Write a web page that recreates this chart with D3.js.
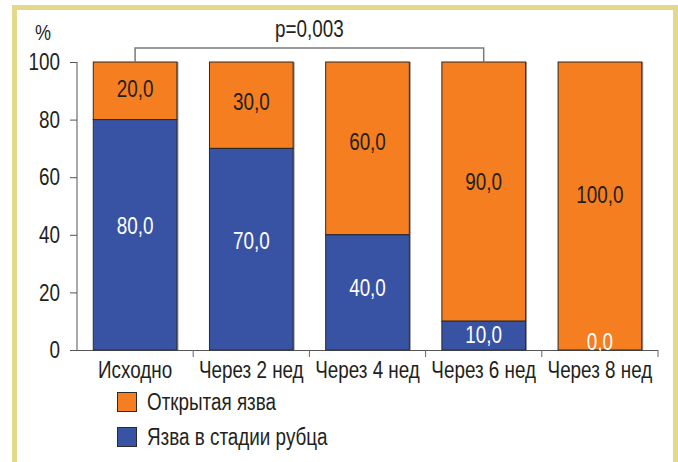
<!DOCTYPE html>
<html><head><meta charset="utf-8">
<script src="https://cdn.jsdelivr.net/npm/d3@7/dist/d3.min.js"></script>
<style>html,body{margin:0;padding:0;background:#fff;}svg{display:block;}</style>
</head><body>
<script>
const categories = ["Исходно", "Через 2 нед", "Через 4 нед", "Через 6 нед", "Через 8 нед"];
const scarred = [80, 70, 40, 10, 0];      // Язва в стадии рубца
const openUlcer = [20, 30, 60, 90, 100];  // Открытая язва
const yTicks = [0, 20, 40, 60, 80, 100];
const seriesNames = ["Открытая язва", "Язва в стадии рубца"];
const pValue = "p=0,003";
const yUnit = "%";

const W = 678, H = 462;
const FONT = "'Liberation Sans',Arial,sans-serif";
const SX = 0.82;
const ORANGE = "#f47e20", BLUE = "#3953a4", TXT = "#231f20";

const svg = d3.select("body").append("svg").attr("width", W).attr("height", H)
  .style("font-family", FONT);

function label(parent, px, py, str, o = {}) {
  return parent.append("text")
    .attr("transform", `translate(${px},${py}) scale(${SX},1)`)
    .attr("text-anchor", o.anchor || "middle")
    .attr("dy", o.dy || null)
    .attr("fill", o.fill || TXT)
    .style("font-size", (o.size || 23) + "px")
    .style("font-family", FONT)
    .text(str);
}

// frame
svg.append("path")
  .attr("d", "M14.5,470 L14.5,7.5 L675.5,7.5 L675.5,470")
  .attr("fill", "none").attr("stroke", "#e4d98b").attr("stroke-width", 5);

const x = d3.scaleBand().domain(categories).range([77, 658]).paddingInner(0.28).paddingOuter(0.14);
const y = d3.scaleLinear().domain([0, 100]).range([350, 62]);

// y axis
const yAxis = svg.append("g").attr("transform", "translate(77,0)")
  .call(d3.axisLeft(y).tickValues(yTicks).tickSize(7).tickFormat(""));
yAxis.select(".domain").attr("stroke", "#555").attr("d", `M0,${y(100)}V${y(0)}`);
yAxis.selectAll(".tick line").attr("stroke", "#555");
yTicks.forEach(t => label(svg, 60, y(t), d3.format("d")(t), { anchor: "end", dy: "0.36em" }));

// x axis
const xAxis = svg.append("g").attr("transform", "translate(0,350)");
xAxis.append("line").attr("x1", 77).attr("x2", 658).attr("y1", 0.5).attr("y2", 0.5).attr("stroke", "#555");
const bounds = categories.map(c => x(c) - x.step() * x.paddingInner() / 2).slice(1).concat([658]);
xAxis.selectAll("line.tk").data(bounds).join("line").attr("class", "tk")
  .attr("x1", d => d).attr("x2", d => d).attr("y1", 0).attr("y2", 7).attr("stroke", "#666");
categories.forEach(c => label(xAxis, x(c) + x.bandwidth() / 2, 28, c));

// % label
label(svg, 43, 40, yUnit, { size: 22 });

// bars
const rows = categories.map((c, i) => ({ c, s: scarred[i], o: openUlcer[i] }));
const g = svg.append("g");
rows.forEach(r => {
  g.append("rect").attr("x", x(r.c) + 1.5).attr("y", y(100)).attr("width", x.bandwidth())
    .attr("height", y(0) - y(100)).attr("fill", "#999");
  g.append("rect").attr("x", x(r.c)).attr("y", y(r.s + r.o)).attr("width", x.bandwidth())
    .attr("height", y(r.s) - y(r.s + r.o)).attr("fill", ORANGE).attr("stroke", "#2a2a2a").attr("stroke-width", 1);
  if (r.s > 0) {
    g.append("rect").attr("x", x(r.c)).attr("y", y(r.s)).attr("width", x.bandwidth())
      .attr("height", y(0) - y(r.s)).attr("fill", BLUE).attr("stroke", "#2a2a2a").attr("stroke-width", 1);
  }
});
// value labels
const fmt = v => v.toFixed(1).replace(".", ",");
rows.forEach(r => {
  const cx = x(r.c) + x.bandwidth() / 2;
  const hO = y(r.s) - y(r.s + r.o), cO = (y(r.s) + y(r.s + r.o)) / 2 - 0.04 * hO;
  label(g, cx, cO, fmt(r.o), { dy: "0.36em" });
  const hS = y(0) - y(r.s);
  const cS = r.s > 0 ? (y(0) + y(r.s)) / 2 - 0.04 * hS : y(0) - 8;
  label(g, cx, cS, fmt(r.s), { dy: "0.36em", fill: "#fff" });
});

// significance bracket
const bx1 = x(categories[0]) + x.bandwidth() / 2, bx2 = x(categories[3]) + x.bandwidth() / 2;
svg.append("path").attr("d", `M${bx1},${y(100)}V48H${bx2}V${y(100)}`)
  .attr("fill", "none").attr("stroke", "#7a7a7a").attr("stroke-width", 1.5);
label(svg, (bx1 + bx2) / 2, 37, pValue);

// legend
const leg = svg.append("g");
[ORANGE, BLUE].forEach((col, i) => {
  leg.append("rect").attr("x", 117.5).attr("y", 392.5 + i * 35).attr("width", 19).attr("height", 19)
    .attr("fill", col).attr("stroke", "#2a2a2a").attr("stroke-width", 1);
  label(leg, 147, 410 + i * 35, seriesNames[i], { anchor: "start" });
});
</script>
</body></html>
